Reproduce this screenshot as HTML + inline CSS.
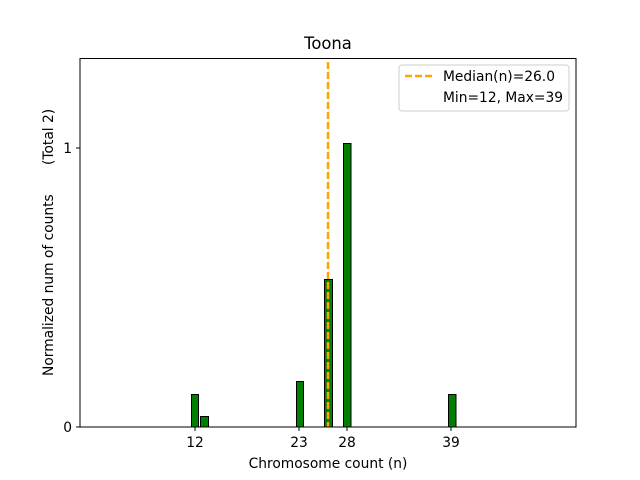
<!DOCTYPE html>
<html><head><meta charset="utf-8"><style>
html,body{margin:0;padding:0;background:#fff;}
svg{display:block;font-family:"DejaVu Sans","Liberation Sans",sans-serif;}
</style></head><body>
<svg width="640" height="480" viewBox="0 0 640 480" xmlns="http://www.w3.org/2000/svg">
<rect width="640" height="480" fill="#fff"/>
<g fill="#008000" stroke="#000" stroke-width="1">
<rect x="191.5" y="394.5" width="7" height="32.5"/>
<rect x="200.5" y="416.5" width="8" height="10.5"/>
<rect x="296.5" y="381.5" width="7" height="45.5"/>
<rect x="324.5" y="279.5" width="8" height="147.5"/>
<rect x="343.5" y="143.5" width="7.5" height="283.5"/>
<rect x="448.5" y="394.5" width="7.5" height="32.5"/>
</g>
<line x1="328" y1="62" x2="328" y2="427" stroke="#FFA500" stroke-width="2.5" stroke-dasharray="7,3"/>
<rect x="80" y="58.5" width="496" height="368.5" fill="none" stroke="#000" stroke-width="1"/>
<g stroke="#000" stroke-width="1">
<line x1="80" y1="427" x2="76" y2="427"/>
<line x1="80" y1="148" x2="76" y2="148"/>
<line x1="195" y1="427" x2="195" y2="431"/>
<line x1="299" y1="427" x2="299" y2="431"/>
<line x1="347" y1="427" x2="347" y2="431"/>
<line x1="451" y1="427" x2="451" y2="431"/>
</g>
<g font-size="13.8" fill="#000">
<text x="72" y="432" text-anchor="end">0</text>
<text x="72" y="153" text-anchor="end">1</text>
<text x="195" y="447" text-anchor="middle">12</text>
<text x="299" y="447" text-anchor="middle">23</text>
<text x="347" y="447" text-anchor="middle">28</text>
<text x="451" y="447" text-anchor="middle">39</text>
<text x="328" y="468" text-anchor="middle">Chromosome count (n)</text>
<text transform="translate(53,376) rotate(-90)" text-anchor="start">Normalized num of counts</text>
<text transform="translate(53,165) rotate(-90)" text-anchor="start">(Total 2)</text>
</g>
<text x="328" y="49" font-size="16.4" text-anchor="middle">Toona</text>
<rect x="399" y="65" width="170" height="46" rx="3" fill="#fff" fill-opacity="0.8" stroke="#ccc" stroke-width="1"/>
<line x1="405" y1="76" x2="433" y2="76" stroke="#FFA500" stroke-width="2.5" stroke-dasharray="7,3"/>
<g font-size="13.8" fill="#000">
<text x="443" y="81">Median(n)=26.0</text>
<text x="443" y="102">Min=12, Max=39</text>
</g>
</svg>
</body></html>
